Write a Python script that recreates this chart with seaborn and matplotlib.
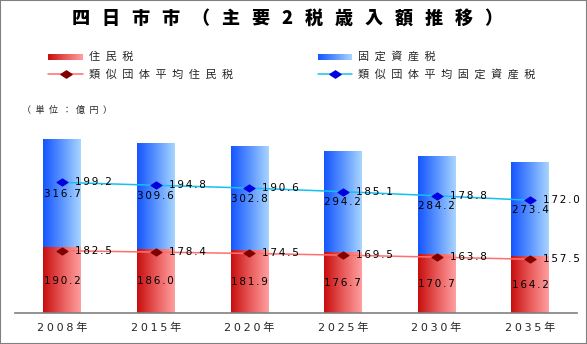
import numpy as np
import pandas as pd
import matplotlib
matplotlib.use("Agg")
import matplotlib.pyplot as plt
from matplotlib.colors import LinearSegmentedColormap
from matplotlib.patches import Rectangle
from matplotlib.path import Path
import seaborn as sns

# --- data (億円) ---
years = ["2008年", "2015年", "2020年", "2025年", "2030年", "2035年"]
resident_tax = [190.2, 186.0, 181.9, 176.7, 170.7, 164.2]
property_tax = [316.7, 309.6, 302.8, 294.2, 284.2, 273.4]
peer_resident_tax = [182.5, 178.4, 174.5, 169.5, 163.8, 157.5]
peer_property_tax = [199.2, 194.8, 190.6, 185.1, 178.8, 172.0]

title = "四日市市（主要2税歳入額推移）"
unit_label = "（単位：億円）"
legend_labels = ["住民税", "固定資産税", "類似団体平均住民税", "類似団体平均固定資産税"]

sns.set_theme(style="white")
plt.rcParams["font.family"] = ["Noto Sans CJK JP", "DejaVu Sans"]
NUM_FONT = ["DejaVu Sans", "Noto Sans CJK JP"]

W, H = 587, 344
fig = plt.figure(figsize=(W / 100, H / 100), dpi=100)
fig.patch.set_facecolor("white")


def tracked(s, gap):
    """Spread characters apart with a narrow space."""
    return gap.join(s)


# plot area in pixel terms
x0, x1 = 15.2, 577.0
base_y = 313.3
px_per_unit = 0.343
ymax = 600
ax = fig.add_axes([x0 / W, (H - base_y) / H, (x1 - x0) / W, ymax * px_per_unit / H])

df = pd.DataFrame({
    "year": years,
    "resident": resident_tax,
    "property": property_tax,
    "peer_resident": peer_resident_tax,
    "peer_property": peer_property_tax,
})
df["total"] = df["resident"] + df["property"]
df["peer_total"] = df["peer_resident"] + df["peer_property"]

# stacked bars: full height (固定資産税 on top) then 住民税 over the lower part
sns.barplot(data=df, x="year", y="total", width=0.4, color="#4a86ff",
            errorbar=None, ax=ax, zorder=1)
n_top = len(ax.patches)
sns.barplot(data=df, x="year", y="resident", width=0.4, color="#e04040",
            errorbar=None, ax=ax, zorder=2)

red_cmap = LinearSegmentedColormap.from_list("red_grad", ["#c80e0e", "#e85a5a", "#ff9e9e"])
blue_cmap = LinearSegmentedColormap.from_list("blue_grad", ["#1656ff", "#5a94ff", "#a8d4ff"])
grad = np.linspace(0, 1, 64).reshape(1, -1)

for i, patch in enumerate(list(ax.patches)):
    cmap = blue_cmap if i < n_top else red_cmap
    bx, by = patch.get_x(), patch.get_y()
    bw, bh = patch.get_width(), patch.get_height()
    ax.imshow(grad, cmap=cmap, extent=[bx, bx + bw, by, by + bh], origin="lower",
              aspect="auto", interpolation="bilinear", zorder=patch.get_zorder())
    patch.set_facecolor("none")
    patch.set_edgecolor("none")

# diamond marker, a little wider than tall
diamond = Path([(-1, 0), (0, 0.65), (1, 0), (0, -0.65), (-1, 0)],
               [Path.MOVETO, Path.LINETO, Path.LINETO, Path.LINETO, Path.CLOSEPOLY])

red_line, red_mark = "#ff6e6e", "#800000"
blue_line, blue_mark = "#12c0f2", "#0000e0"

sns.lineplot(data=df, x="year", y="peer_resident", color=red_line, lw=1.1,
             marker=diamond, ms=8, mfc=red_mark, mec=red_mark, sort=False,
             ax=ax, zorder=4)
sns.lineplot(data=df, x="year", y="peer_total", color=blue_line, lw=1.1,
             marker=diamond, ms=8, mfc=blue_mark, mec=blue_mark, sort=False,
             ax=ax, zorder=4)

num_gap = "\u2006"
lab_kw = dict(fontsize=7.5, family=NUM_FONT, color="black", zorder=6)
for i in range(len(years)):
    r, p = resident_tax[i], property_tax[i]
    pr, pp = peer_resident_tax[i], peer_property_tax[i]
    ax.text(i, r / 2, tracked(f"{r:.1f}", num_gap), ha="center", va="center", **lab_kw)
    ax.text(i, r + p / 2, tracked(f"{p:.1f}", num_gap), ha="center", va="center", **lab_kw)
    ax.annotate(tracked(f"{pr:.1f}", num_gap), xy=(i, pr), xytext=(9.4, 0),
                textcoords="offset points", ha="left", va="center", **lab_kw)
    ax.annotate(tracked(f"{pp:.1f}", num_gap), xy=(i, pr + pp), xytext=(9.4, 0),
                textcoords="offset points", ha="left", va="center", **lab_kw)

ax.set_xlim(-0.5, len(years) - 0.5)
ax.set_ylim(0, ymax)
ax.set_xticks(range(len(years)))
ax.set_xticklabels([tracked(y, "\u2005") for y in years], family=NUM_FONT, fontsize=8)
ax.tick_params(axis="x", length=0, pad=6.5)
ax.set_yticks([])
ax.set_xlabel("")
ax.set_ylabel("")
for side in ("top", "left", "right"):
    ax.spines[side].set_visible(False)
ax.spines["bottom"].set_color("#808080")
ax.spines["bottom"].set_linewidth(1.2)
ax.patch.set_alpha(0)

# overlay in pixel coordinates for title, legend and unit note
ov = fig.add_axes([0, 0, 1, 1])
ov.patch.set_alpha(0)
ov.axis("off")

ov.text(287, 18.5, tracked(title, "\u2002\u2006"), ha="center", va="center",
        fontsize=13, fontweight="heavy", color="black")

ov.imshow(grad, cmap=red_cmap, extent=[48, 83, 59.7, 53.7], aspect="auto",
          interpolation="bilinear")
ov.imshow(grad, cmap=blue_cmap, extent=[318, 352, 59.7, 53.7], aspect="auto",
          interpolation="bilinear")
ov.plot([48, 83], [74.3, 74.3], color=red_line, lw=1.1)
ov.plot([65.5], [74.3], marker=diamond, ms=8, color=red_mark, ls="none")
ov.plot([318, 352], [74.3, 74.3], color=blue_line, lw=1.1)
ov.plot([335], [74.3], marker=diamond, ms=8, color=blue_mark, ls="none")

leg_gap = "\u2002"
ov.text(89, 56.7, tracked(legend_labels[0], leg_gap), va="center", fontsize=8)
ov.text(358, 56.7, tracked(legend_labels[1], leg_gap), va="center", fontsize=8)
ov.text(89, 74.3, tracked(legend_labels[2], leg_gap), va="center", fontsize=8)
ov.text(358, 74.3, tracked(legend_labels[3], leg_gap), va="center", fontsize=8)

ov.text(22, 110, tracked(unit_label, "\u2002"), va="center", fontsize=6.5)

ov.set_xlim(0, W)
ov.set_ylim(H, 0)

fig.add_artist(Rectangle((0, 0), 1, 1, transform=fig.transFigure, fill=False,
                         edgecolor="#808080", lw=1.5))

fig.savefig("out.png", dpi=100)
